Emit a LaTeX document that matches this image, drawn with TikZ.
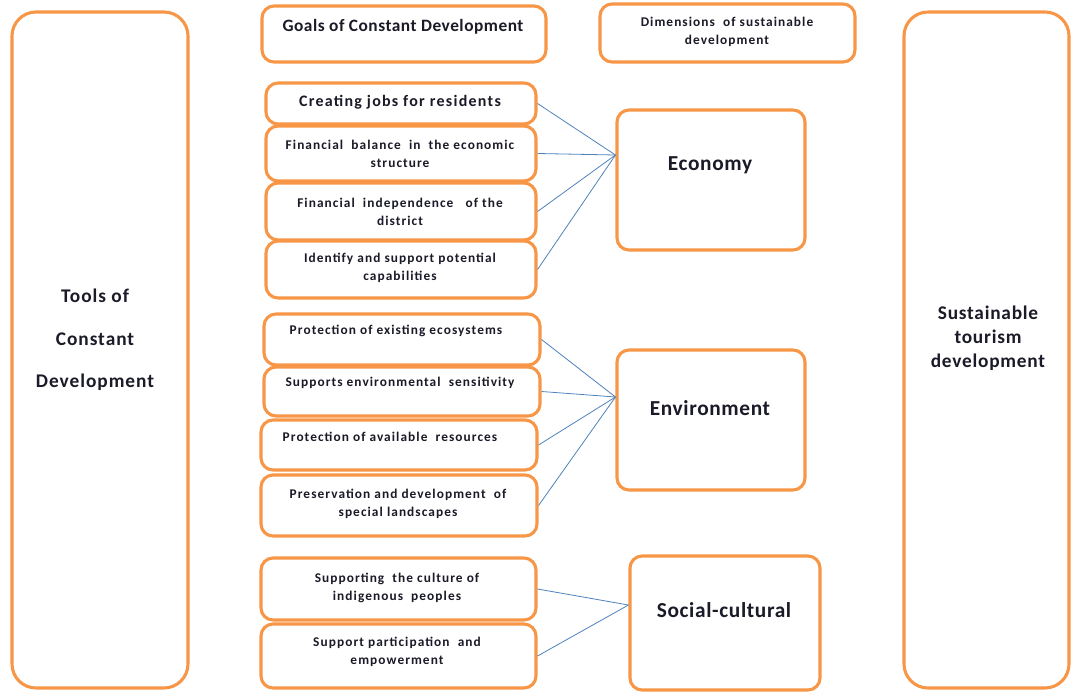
\documentclass[tikz,border=0pt]{standalone}
\usepackage{fontspec}
\setmainfont{Carlito}
\usetikzlibrary{fit}
\definecolor{boxorange}{HTML}{F79646}
\definecolor{linkblue}{HTML}{4F81BD}
\definecolor{txtcol}{HTML}{1A1A28}
\tikzset{
  box/.style={draw=boxorange, line width=2.3pt, rounded corners=9pt, inner sep=0pt, fill=white},
  bigbox/.style={box, rounded corners=18pt},
  conn/.style={draw=linkblue, line width=0.6pt},
  txt/.style={font=\bfseries\fontsize{10}{13.5}\selectfont\addfontfeature{LetterSpace=8}, text=txtcol, align=center, inner sep=0pt},
  midtxt/.style={font=\bfseries\fontsize{12}{14}\selectfont\addfontfeature{LetterSpace=8}, text=txtcol, align=center, inner sep=0pt},
  bigtxt/.style={font=\bfseries\fontsize{16}{18}\selectfont\addfontfeature{LetterSpace=3}, text=txtcol, align=center, inner sep=0pt}
}
\begin{document}
\begin{tikzpicture}[x=0.75pt, y=-0.75pt]
\useasboundingbox (0,0) rectangle (1072,693);
% big side boxes
\node[bigbox, fit={(12,12) (188,688)}] (tools) {};
\node[bigtxt, font=\bfseries\fontsize{14.5}{32}\selectfont\addfontfeature{LetterSpace=5}] (toolst) at (95,340) {Tools of\\Constant\\Development};
\node[bigbox, fit={(904,12) (1069,688)}] (sust) {};
\node[bigtxt, font=\bfseries\fontsize{14.5}{18}\selectfont\addfontfeature{LetterSpace=4}] (sustt) at (988,338) {Sustainable\\tourism\\development};
% header boxes
\node[box, fit={(262,6) (546,62)}] (goals) {};
\node[midtxt, font=\bfseries\fontsize{13}{15}\selectfont\addfontfeature{LetterSpace=3}] (goalst) at (403,27) {Goals of Constant Development};
\node[box, fit={(600,4) (855,62)}] (dims) {};
\node[txt] (dimst) at (727,32) {Dimensions\ \ of sustainable\\development};
% economy group
\node[box, fit={(266,83) (536,124)}] (jobs) {};
\node[midtxt] (jobst) at (400,102) {Creating jobs for residents};
\node[box, fit={(266,126) (536,181)}] (fbal) {};
\node[txt] (fbalt) at (400,154) {Financial\ \ balance\ \ in\ \ the economic\\structure};
\node[box, fit={(266,183) (536,240)}] (find) {};
\node[txt] (findt) at (400,212) {Financial\ \ independence\ \ \ of the\\district};
\node[box, fit={(266,241) (536,298)}] (ident) {};
\node[txt] (identt) at (400,268) {Identify and support potential\\capabilities};
\node[box, fit={(617,110) (805,250)}] (eco) {};
\node[bigtxt] (ecot) at (710,165) {Economy};
\coordinate (ecoin) at ([yshift=18.75pt]eco.west);
% environment group
\node[box, fit={(264,314) (540,365)}] (pexist) {};
\node[txt] (pexistt) at (396,331) {Protection of existing ecosystems};
\node[box, fit={(264,367) (540,416)}] (senv) {};
\node[txt] (senvt) at (400,383) {Supports environmental\ \ sensitivity};
\node[box, fit={(261,420) (537,470)}] (pavail) {};
\node[txt] (pavailt) at (390,437) {Protection of available\ \ resources};
\node[box, fit={(261,475) (537,536)}] (pres) {};
\node[txt] (prest) at (398,504) {Preservation and development\ \ of\\special landscapes};
\node[box, fit={(617,350) (805,490)}] (env) {};
\node[bigtxt] (envt) at (710,408) {Environment};
\coordinate (envin) at ([yshift=17.25pt]env.west);
% social group
\node[box, fit={(261,558) (536,620)}] (cult) {};
\node[txt] (cultt) at (397,588) {Supporting\ \ the culture of\\indigenous\ \ peoples};
\node[box, fit={(261,624) (536,688)}] (part) {};
\node[txt] (partt) at (397,652) {Support participation\ \ and\\empowerment};
\node[box, fit={(630,556) (820,690)}] (soc) {};
\node[bigtxt] (soct) at (724,610) {Social-cultural};
\coordinate (socin) at ([yshift=13.5pt]soc.west);
% connectors
\draw[conn] (jobs.east) -- (ecoin);
\draw[conn] (fbal.east) -- (ecoin);
\draw[conn] (find.east) -- (ecoin);
\draw[conn] (ident.east) -- (ecoin);
\draw[conn] (pexist.east) -- (envin);
\draw[conn] (senv.east) -- (envin);
\draw[conn] (pavail.east) -- (envin);
\draw[conn] (pres.east) -- (envin);
\draw[conn] (cult.east) -- (socin);
\draw[conn] (part.east) -- (socin);
\end{tikzpicture}
\end{document}
